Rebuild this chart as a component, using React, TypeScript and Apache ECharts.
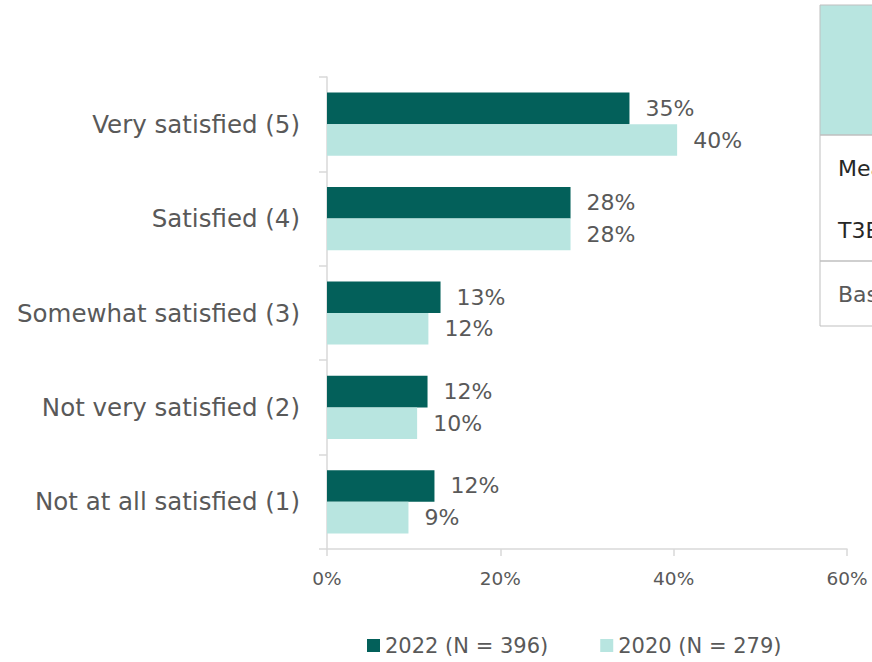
import React, { useEffect, useRef } from "react";
import * as echarts from "echarts";

const categories = [
  "Very satisfied (5)",
  "Satisfied (4)",
  "Somewhat satisfied (3)",
  "Not very satisfied (2)",
  "Not at all satisfied (1)",
];
const series2022 = [34.9, 28.1, 13.1, 11.6, 12.4];
const series2020 = [40.4, 28.1, 11.7, 10.4, 9.4];
const seriesNames = ["2022 (N = 396)", "2020 (N = 279)"];
const xTicks = [0, 20, 40, 60];
const tableRows = ["Mean", "T3B", "Base"];

const FONT = "DejaVu Sans";
const TXT = "#595959";
const DARK = "#03605a";
const LIGHT = "#b8e5e0";
const AXIS = "#d9d9d9";

export default function App() {
  const ref = useRef<HTMLDivElement>(null);
  useEffect(() => {
    if (!ref.current) return;
    const chart = echarts.init(ref.current, null, { renderer: "svg" });
    const label = {
      show: true,
      position: "right",
      distance: 16,
      color: TXT,
      fontFamily: FONT,
      fontSize: 22,
      formatter: (p: any) => Math.round(p.value) + "%",
    };
    chart.setOption({
      animation: false,
      textStyle: { fontFamily: FONT },
      grid: { left: 327, right: 25, top: 77, bottom: 113 },
      legend: {
        bottom: 1,
        left: 362,
        icon: "rect",
        itemWidth: 13,
        itemHeight: 13,
        itemGap: 52,
        textStyle: { color: TXT, fontFamily: FONT, fontSize: 21 },
        data: seriesNames,
      },
      xAxis: {
        type: "value",
        min: xTicks[0],
        max: xTicks[xTicks.length - 1],
        interval: 20,
        axisLine: { show: true, lineStyle: { color: AXIS, width: 1.5 } },
        axisTick: { show: true, length: 7, lineStyle: { color: AXIS, width: 1.5 } },
        splitLine: { show: false },
        axisLabel: {
          color: TXT,
          fontFamily: FONT,
          fontSize: 18.5,
          margin: 20,
          formatter: (v: number) => v + "%",
        },
      },
      yAxis: {
        type: "category",
        inverse: true,
        data: categories,
        axisLine: { show: true, lineStyle: { color: AXIS, width: 1.5 } },
        axisTick: { show: true, length: 8, lineStyle: { color: AXIS, width: 1.5 } },
        axisLabel: { color: TXT, fontFamily: FONT, fontSize: 24.5, margin: 27 },
      },
      series: [
        {
          name: seriesNames[0],
          type: "bar",
          data: series2022,
          itemStyle: { color: DARK },
          barGap: "0%",
          barCategoryGap: "33%",
          label,
        },
        {
          name: seriesNames[1],
          type: "bar",
          data: series2020,
          itemStyle: { color: LIGHT },
          barGap: "0%",
          barCategoryGap: "33%",
          label,
        },
      ],
      graphic: [
        {
          type: "rect",
          shape: { x: 820, y: 5, width: 80, height: 130 },
          style: { fill: LIGHT, stroke: "#bfbfbf", lineWidth: 1 },
        },
        {
          type: "rect",
          shape: { x: 820, y: 135, width: 80, height: 126 },
          style: { fill: "none", stroke: "#bfbfbf", lineWidth: 1 },
        },
        {
          type: "rect",
          shape: { x: 820, y: 261, width: 80, height: 65 },
          style: { fill: "none", stroke: "#bfbfbf", lineWidth: 1 },
        },
        {
          type: "text",
          x: 838,
          y: 168,
          style: { text: tableRows[0], fill: "#262626", font: `22px "${FONT}"`, verticalAlign: "middle" },
        },
        {
          type: "text",
          x: 838,
          y: 230,
          style: { text: tableRows[1], fill: "#262626", font: `22px "${FONT}"`, verticalAlign: "middle" },
        },
        {
          type: "text",
          x: 838,
          y: 294,
          style: { text: tableRows[2], fill: TXT, font: `22px "${FONT}"`, verticalAlign: "middle" },
        },
      ],
    });
    return () => chart.dispose();
  }, []);
  return <div ref={ref} style={{ width: 872, height: 662, position: "absolute", left: 0, top: 0 }} />;
}
